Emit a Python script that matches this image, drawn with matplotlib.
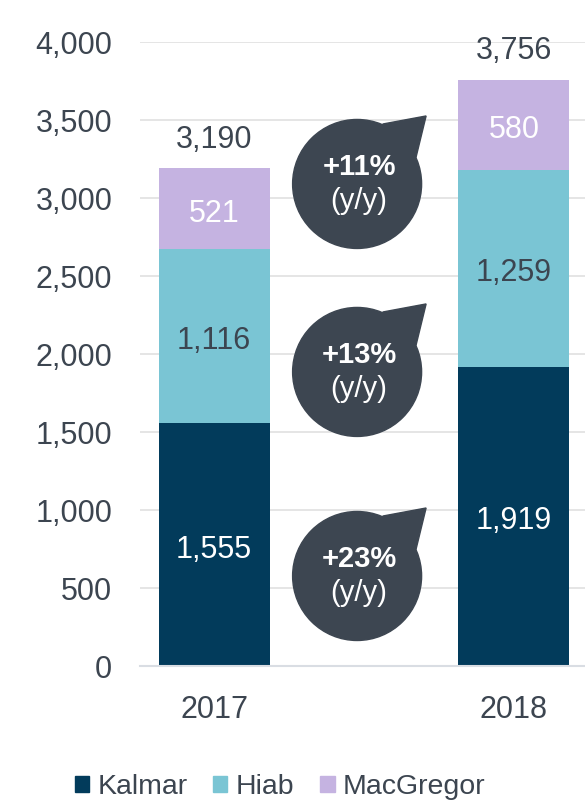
import numpy as np
import matplotlib
matplotlib.use("Agg")
import matplotlib.pyplot as plt
from matplotlib.patches import Patch, Circle, Polygon
from matplotlib import transforms

plt.rcParams['font.family'] = ['Liberation Sans', 'DejaVu Sans']

years = ["2017", "2018"]
kalmar = [1555, 1919]
hiab = [1116, 1259]
macgregor = [521, 580]
totals = [3190, 3756]
growth = ["+23%", "+13%", "+11%"]
growth_y = [577, 1885, 3090]

c_kalmar = "#023b5b"
c_hiab = "#7ac5d4"
c_mac = "#c5b3e1"
c_text = "#3c4550"
c_bubble = "#3d4651"
fs = 22

fig = plt.figure(figsize=(5.85, 8.01), dpi=100)
ax = fig.add_axes([140 / 585, 135 / 801, 445 / 585, 624 / 801])

x = np.arange(len(years))
w = 0.37
ax.bar(x, kalmar, w, color=c_kalmar, zorder=2)
ax.bar(x, hiab, w, bottom=kalmar, color=c_hiab, zorder=2)
bottom3 = np.array(kalmar) + np.array(hiab)
ax.bar(x, macgregor, w, bottom=bottom3, color=c_mac, zorder=2)


def seg_label(xx, yy, txt, col):
    ax.annotate(txt, (xx, yy), xytext=(0, -3.5), textcoords="offset points",
                ha="center", va="center", color=col, fontsize=fs, zorder=3)


for i in range(len(years)):
    seg_label(x[i], kalmar[i] / 2, f"{kalmar[i]:,}", "white")
    seg_label(x[i], kalmar[i] + hiab[i] / 2, f"{hiab[i]:,}", c_text)
    seg_label(x[i], bottom3[i] + macgregor[i] / 2, f"{macgregor[i]:,}", "white")
    ax.annotate(f"{totals[i]:,}", (x[i], totals[i]), xytext=(0, 15),
                textcoords="offset points", ha="center", va="baseline",
                color=c_text, fontsize=fs, annotation_clip=False)

ax.set_xlim(-0.247, 1.237)
ax.set_ylim(0, 4000)
ax.set_yticks(np.arange(0, 4001, 500))
ax.yaxis.set_major_formatter(matplotlib.ticker.FuncFormatter(lambda v, p: f"{int(v):,}"))
ax.set_xticks(x)
ax.set_xticklabels(years)
ax.tick_params(axis="both", length=0, labelsize=fs, labelcolor=c_text)
ax.tick_params(axis="y", pad=20)
ax.tick_params(axis="x", pad=21)
ax.grid(axis="y", color="#e0e0e0", linewidth=1.2, zorder=0)
ax.set_axisbelow(True)
for s in ["top", "right", "left"]:
    ax.spines[s].set_visible(False)
ax.spines["bottom"].set_color("#d9dde3")
ax.spines["bottom"].set_linewidth(1.5)

# speech bubbles, shape in inches around a data point
r = 0.645
for lab, gy in zip(growth, growth_y):
    trans = fig.dpi_scale_trans + transforms.ScaledTranslation(0.477, gy, ax.transData)
    ax.add_patch(Circle((0, 0), r, transform=trans, color=c_bubble, zorder=4, clip_on=False))
    ax.add_patch(Polygon([(0.26, 0.60), (0.69, 0.68), (0.59, 0.27), (0, 0)], closed=True,
                         transform=trans, color=c_bubble, zorder=4, clip_on=False))
    ax.annotate(lab, (0.477, gy), xytext=(1.5, 12), textcoords="offset points",
                ha="center", va="center", color="white", fontsize=21,
                fontweight="bold", zorder=5)
    ax.annotate("(y/y)", (0.477, gy), xytext=(1.5, -12), textcoords="offset points",
                ha="center", va="center", color="white", fontsize=21, zorder=5)

handles = [Patch(color=c_kalmar, label="Kalmar"), Patch(color=c_hiab, label="Hiab"),
           Patch(color=c_mac, label="MacGregor")]
leg = fig.legend(handles=handles, loc="center", bbox_to_anchor=(0.479, 0.017), ncol=3,
                 frameon=False, fontsize=20.5, handlelength=0.5, handleheight=0.5,
                 handletextpad=0.3, columnspacing=0.9)
for t in leg.get_texts():
    t.set_color(c_text)

fig.savefig("out.png", dpi=100)
